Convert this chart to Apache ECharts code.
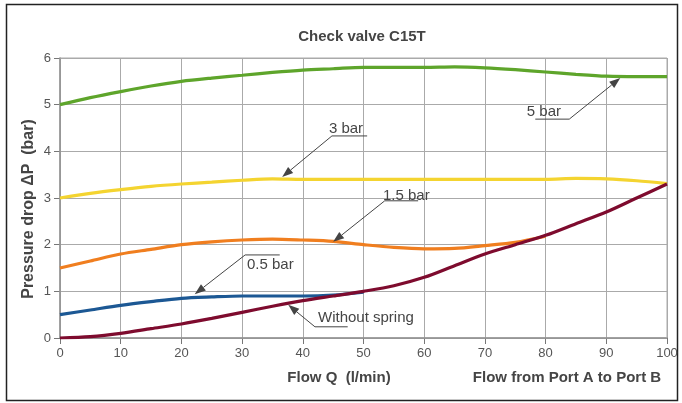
<!DOCTYPE html>
<html><head><meta charset="utf-8">
<script src="https://cdn.jsdelivr.net/npm/echarts@6/dist/echarts.min.js"></script>
<style>html,body{margin:0;padding:0;background:#fff}#c{width:682px;height:403px}</style>
</head><body><div id="c"></div>
<script>
const flow = [0,5,10,15,20,25,30,35,40,45,50,55,60,65,70,75,80,85,90,95,100];
const bar5 = [5.0,5.15,5.28,5.4,5.5,5.57,5.63,5.69,5.74,5.77,5.8,5.8,5.8,5.81,5.79,5.75,5.7,5.65,5.61,5.6,5.6];
const bar3 = [3.0,3.1,3.18,3.25,3.3,3.34,3.38,3.41,3.4,3.4,3.4,3.4,3.4,3.4,3.4,3.4,3.4,3.42,3.41,3.37,3.31];
const bar15 = [1.5,1.65,1.8,1.9,2.0,2.06,2.1,2.12,2.1,2.07,2.0,1.94,1.91,1.92,1.98,2.05,2.18];
const bar05 = [0.5,0.6,0.7,0.78,0.85,0.88,0.9,0.9,0.9,0.92,0.98];
const noSpring = [0,0.03,0.1,0.2,0.3,0.42,0.55,0.68,0.8,0.9,1.0,1.12,1.3,1.55,1.8,2.0,2.2,2.45,2.7,3.0,3.3];
const xTicks = [0,10,20,30,40,50,60,70,80,90,100];
const yTicks = [0,1,2,3,4,5,6];

// annotations: label, text pos, underline [x1,x2,y], arrow start, arrow tip (data coords)
const notes = [
  {label:'5 bar', text:[76.9,4.84], line:[78.3,83.9,4.69], from:[83.9,4.69], tip:[92.3,5.57]},
  {label:'3 bar', text:[44.3,4.48], line:[44.8,50.6,4.33], from:[44.8,4.33], tip:[36.6,3.45]},
  {label:'1.5 bar', text:[53.2,3.04], line:[53.5,59.0,2.94], from:[53.5,2.94], tip:[45.0,2.06]},
  {label:'0.5 bar', text:[30.8,1.56], line:[30.5,36.2,1.78], from:[30.5,1.78], tip:[22.2,0.94]},
  {label:'Without spring', text:[42.5,0.43], line:[42.0,47.4,0.24], from:[42.0,0.24], tip:[37.6,0.71]}
];

const pair = (ys) => ys.map((v,i)=>[flow[i],v]);
const chart = echarts.init(document.getElementById('c'));
const font = 'Liberation Sans, Arial, sans-serif';
const mk = (name,data,color) => ({name,type:'line',data:pair(data),smooth:0.3,showSymbol:false,
  lineStyle:{color,width:3.2},itemStyle:{color},z:3});
chart.setOption({
  animation:false,
  grid:{left:60,right:15,top:58,bottom:65},
  xAxis:{type:'value',min:0,max:100,interval:10,
    axisLine:{lineStyle:{color:'#777',width:1.5}},
    axisTick:{show:true,length:6,lineStyle:{color:'#777'}},
    axisLabel:{color:'#555',fontFamily:font,fontSize:13,margin:9,formatter:v=>xTicks.includes(v)?String(v):''},
    splitLine:{show:true,lineStyle:{color:'#aaa',width:1}}},
  yAxis:{type:'value',min:0,max:6,interval:1,
    axisLine:{show:true,lineStyle:{color:'#777',width:1.5}},
    axisTick:{show:true,length:6,lineStyle:{color:'#777'}},
    axisLabel:{color:'#555',fontFamily:font,fontSize:13,margin:9,formatter:v=>yTicks.includes(v)?String(v):''},
    splitLine:{show:true,lineStyle:{color:'#aaa',width:1}}},
  series:[
    mk('5 bar',bar5,'#5ea52b'),
    mk('3 bar',bar3,'#f4d430'),
    mk('1.5 bar',bar15,'#f07e1f'),
    mk('0.5 bar',bar05,'#1c5894'),
    mk('Without spring',noSpring,'#7e0b2e')
  ]
});

const P = (p) => chart.convertToPixel({gridIndex:0},p);
const g = [];
const bold = (text,x,y,size,rot) => ({type:'text',x,y,rotation:rot||0,z:10,style:{text,fontFamily:font,fontSize:size,fontWeight:'bold',fill:'#454545',align:'center',verticalAlign:'middle'}});
g.push({type:'rect',shape:{x:6.5,y:4.5,width:671,height:396},style:{fill:'none',stroke:'#222',lineWidth:1.5},z:0,silent:true});
g.push({type:'rect',shape:{x:60,y:58,width:607,height:280},style:{fill:'none',stroke:'#aaa',lineWidth:1},z:1,silent:true});
g.push(bold('Check valve C15T',362,37,15));
g.push(bold('Pressure drop ΔP  (bar)',29,209,16,Math.PI/2));
g.push(bold('Flow Q  (l/min)',339,378,15));
g.push(bold('Flow from Port A to Port B',567,378,15));
notes.forEach(n=>{
  const t = P(n.text), a = P([n.line[0],n.line[2]]), b = P([n.line[1],n.line[2]]);
  const f = P(n.from), tp = P(n.tip);
  g.push({type:'text',x:t[0],y:t[1],z:10,style:{text:n.label,fontFamily:font,fontSize:15,fill:'#454545',align:'left',verticalAlign:'middle'}});
  g.push({type:'line',z:10,shape:{x1:a[0],y1:a[1],x2:b[0],y2:b[1]},style:{stroke:'#444',lineWidth:1}});
  const dx = tp[0]-f[0], dy = tp[1]-f[1], L = Math.hypot(dx,dy), ux=dx/L, uy=dy/L;
  const hl = 11, hw = 4;
  const bx = tp[0]-ux*hl, by = tp[1]-uy*hl;
  g.push({type:'line',z:10,shape:{x1:f[0],y1:f[1],x2:bx,y2:by},style:{stroke:'#444',lineWidth:1}});
  g.push({type:'polygon',z:10,shape:{points:[[tp[0],tp[1]],[bx-uy*hw,by+ux*hw],[bx+uy*hw,by-ux*hw]]},style:{fill:'#444'}});
});
chart.setOption({graphic:g});
</script></body></html>
